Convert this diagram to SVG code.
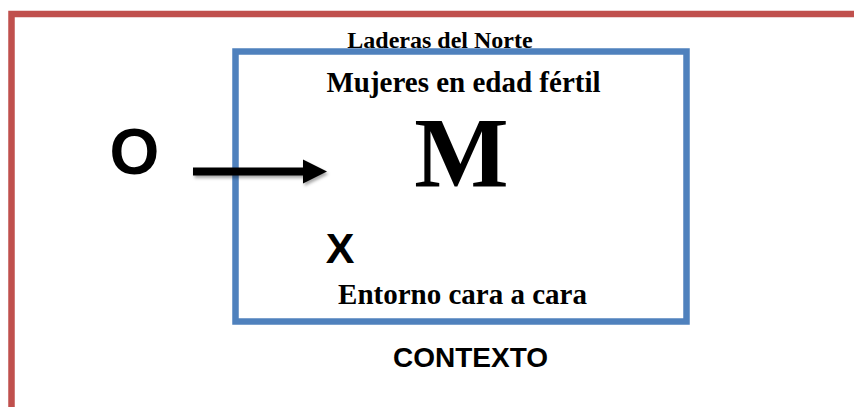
<svg xmlns="http://www.w3.org/2000/svg" width="854" height="407" viewBox="0 0 854 407">
  <defs>
    <style>
      .serif { font-family: "Liberation Serif", "Times New Roman", serif; font-weight: bold; fill: #000; }
      .sans { font-family: "Liberation Sans", Arial, sans-serif; font-weight: bold; fill: #000; }
    </style>
    <filter id="shadow" x="-10%" y="-50%" width="120%" height="200%">
      <feDropShadow dx="1.5" dy="2.5" stdDeviation="1.5" flood-color="#000" flood-opacity="0.35"/>
    </filter>
  </defs>
  <rect width="854" height="407" fill="#fff"/>
  <g id="context-frame">
    <path d="M11.5 407 V14 H854" fill="none" stroke="#c0504d" stroke-width="6.5"/>
  </g>
  <g id="context-box">
    <rect x="235.5" y="51.5" width="451" height="270" fill="none" stroke="#4f81bd" stroke-width="6.5"/>
  </g>
  <g id="label-laderas">
    <text class="serif" x="440" y="48" font-size="24" text-anchor="middle">Laderas del Norte</text>
  </g>
  <g id="label-mujeres">
    <text class="serif" x="463.5" y="92" font-size="29" text-anchor="middle">Mujeres en edad fértil</text>
  </g>
  <g id="node-M">
    <text class="serif" x="461.5" y="186" font-size="100" text-anchor="middle">M</text>
  </g>
  <g id="node-O">
    <text class="sans" x="134.5" y="174" font-size="64" text-anchor="middle">O</text>
  </g>
  <g id="node-X">
    <text class="sans" x="340" y="263" font-size="43" text-anchor="middle">X</text>
  </g>
  <g id="label-entorno">
    <text class="serif" x="462.5" y="304" font-size="29" text-anchor="middle">Entorno cara a cara</text>
  </g>
  <g id="label-contexto">
    <text class="sans" x="470.5" y="367" font-size="28" text-anchor="middle">CONTEXTO</text>
  </g>
  <g id="connectors" filter="url(#shadow)">
    <line x1="193" y1="171.5" x2="305" y2="171.5" stroke="#000" stroke-width="8"/>
    <polygon points="303,159.5 327,171.5 303,183.5" fill="#000"/>
  </g>
</svg>
